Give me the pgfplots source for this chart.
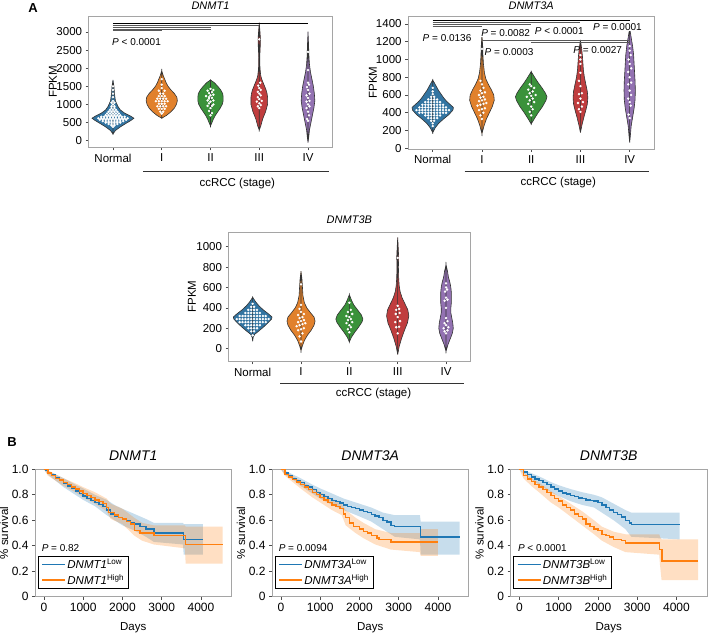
\documentclass[border=0pt]{standalone}
\usepackage{fontspec}
\setmainfont{Liberation Sans}
\usepackage{pgfplots}
\pgfplotsset{compat=1.18}
\usepackage{pgfplotstable}
\usepgfplotslibrary{fillbetween}

\definecolor{vblue}{RGB}{50,116,161}
\definecolor{vorange}{RGB}{225,129,44}
\definecolor{vgreen}{RGB}{58,146,58}
\definecolor{vred}{RGB}{192,61,62}
\definecolor{vpurple}{RGB}{147,114,178}
\definecolor{kmblue}{RGB}{31,119,180}
\definecolor{kmorange}{RGB}{255,127,14}
\definecolor{framegray}{RGB}{165,165,165}

% ---------- violin outlines: value v, half width w ----------
\pgfplotstableread{
v w
185 0
280 0.05
380 0.15
480 0.27
560 0.37
620 0.43
680 0.36
760 0.24
850 0.15
950 0.10
1100 0.05
1300 0.03
1500 0.02
1676 0
}\aN
\pgfplotstableread{
v w
620 0
700 0.10
800 0.19
900 0.26
1000 0.30
1100 0.32
1200 0.31
1300 0.26
1400 0.19
1500 0.13
1600 0.09
1700 0.06
1800 0.03
1930 0
}\aI
\pgfplotstableread{
v w
406 0
500 0.03
600 0.06
700 0.10
800 0.15
900 0.20
1000 0.24
1100 0.26
1200 0.26
1300 0.25
1400 0.21
1500 0.15
1600 0.08
1676 0
}\aII
\pgfplotstableread{
v w
295 0
400 0.03
500 0.05
600 0.07
700 0.10
800 0.13
900 0.15
1000 0.17
1100 0.17
1200 0.17
1300 0.16
1400 0.14
1500 0.11
1600 0.08
1700 0.05
1800 0.03
2000 0.015
2300 0.01
2600 0.02
2800 0.025
3000 0.015
3258 0
}\aIII
\pgfplotstableread{
v w
-55 0
100 0.015
300 0.03
500 0.06
700 0.09
900 0.12
1100 0.14
1300 0.13
1500 0.11
1700 0.08
1900 0.05
2100 0.03
2300 0.02
2500 0.015
2700 0.01
3010 0
}\aIV
\pgfplotstableread{
v w
176 0
230 0.05
280 0.12
330 0.22
380 0.33
430 0.41
460 0.42
490 0.36
530 0.28
570 0.22
610 0.17
650 0.12
700 0.07
740 0.03
769 0
}\bN
\pgfplotstableread{
v w
163 0
250 0.04
330 0.09
400 0.15
470 0.21
540 0.25
600 0.24
660 0.19
720 0.13
780 0.08
850 0.05
950 0.03
1050 0.02
1150 0.015
1276 0
}\bI
\pgfplotstableread{
v w
274 0
330 0.06
400 0.14
470 0.23
540 0.30
580 0.32
620 0.29
680 0.22
740 0.14
800 0.07
863 0
}\bII
\pgfplotstableread{
v w
176 0
260 0.03
350 0.07
430 0.11
500 0.14
570 0.15
640 0.14
720 0.11
800 0.08
880 0.06
960 0.05
1040 0.04
1120 0.025
1220 0
}\bIII
\pgfplotstableread{
v w
63 0
150 0.015
250 0.03
350 0.06
450 0.09
550 0.11
650 0.115
750 0.11
850 0.10
950 0.09
1050 0.08
1150 0.06
1250 0.03
1351 0
}\bIV
\pgfplotstableread{
v w
72 0
110 0.01
140 0.04
170 0.12
210 0.22
250 0.31
290 0.39
310 0.40
340 0.33
380 0.22
420 0.13
460 0.06
504 0
}\cN
\pgfplotstableread{
v w
-20 0
30 0.03
80 0.07
130 0.13
180 0.21
230 0.27
270 0.29
310 0.27
350 0.20
400 0.12
450 0.07
520 0.04
600 0.03
680 0.02
759 0
}\cI
\pgfplotstableread{
v w
66 0
110 0.04
160 0.11
210 0.19
260 0.26
290 0.28
330 0.25
380 0.17
430 0.09
480 0.04
530 0
}\cII
\pgfplotstableread{
v w
-59 0
20 0.03
100 0.08
180 0.14
250 0.20
320 0.23
380 0.21
440 0.15
500 0.09
560 0.05
620 0.03
700 0.02
800 0.015
900 0.02
1000 0.01
1092 0
}\cIII
\pgfplotstableread{
v w
-26 0
40 0.04
100 0.09
150 0.13
200 0.15
250 0.14
300 0.12
350 0.10
400 0.10
450 0.11
500 0.11
550 0.11
600 0.10
650 0.08
700 0.05
760 0.03
824 0
}\cIV

\newcommand{\violin}[3]{%
  \addplot[draw=none, forget plot, name path=vr#1] table[x expr={#1+\thisrow{w}}, y=v]{#3};
  \addplot[draw=none, forget plot, name path=vl#1] table[x expr={#1-\thisrow{w}}, y=v]{#3};
  \addplot[fill=#2, draw=black!80, line width=0.6pt, forget plot] fill between[of=vr#1 and vl#1];
}

\tikzset{pnote/.style={anchor=west, font=\fontsize{10}{12}\selectfont, inner sep=0pt}}

\pgfplotsset{
  common/.style={
    scale only axis, anchor=south west, clip=false,
    axis line style={framegray, line width=0.9pt},
    tick style={black!70, line width=0.6pt},
    tick align=outside, major tick length=3pt,
    xtick pos=bottom, ytick pos=left,
    scaled ticks=false,
    /pgf/number format/assume math mode=true,
    /pgf/number format/1000 sep={},
    ticklabel style={font=\fontsize{11.5}{13}\selectfont},
  },
  vio/.style={common,
    xmin=-0.5, xmax=4.5,
    xtick={0,1,2,3,4}, xticklabels={Normal,I,II,III,IV},
    ylabel={FPKM},
    ylabel style={font=\fontsize{11.5}{13}\selectfont, anchor=center},
    title style={font=\itshape\fontsize{11}{13}\selectfont, anchor=center},
  },
  dots/.style={only marks, mark=*, mark size=1pt, color=white, forget plot},
  sig/.style={black!65, line width=0.7pt, forget plot},
  km/.style={common,
    width=196.5pt, height=127.4pt,
    xmin=-227, xmax=4777, ymin=0, ymax=1,
    xtick={0,1000,2000,3000,4000},
    ytick={0,0.2,0.4,0.6,0.8,1}, yticklabels={0,0.2,0.4,0.6,0.8,1.0},
    ticklabel style={font=\fontsize{12}{14}\selectfont},
    xlabel={Days}, ylabel={\% survival},
    xlabel style={font=\fontsize{11.5}{13}\selectfont, at={(0.5,-0.24)}, anchor=center},
    ylabel style={font=\fontsize{11.5}{13}\selectfont, at={(-0.158,0.5)}, anchor=center},
    title style={font=\itshape\fontsize{14}{16}\selectfont, at={(0.5,1.057)}, anchor=center},
    legend cell align=left,
    legend style={at={(0.015,0.06)}, anchor=south west, draw=black, line width=0.9pt,
      font=\fontsize{11.5}{13}\selectfont, inner xsep=3pt, inner ysep=1pt, row sep=1pt,
      nodes={inner sep=1.6pt}},
    legend image code/.code={\draw[##1] (0pt,0pt) -- (23pt,0pt);},
  },
  bandblue/.style={fill=kmblue, fill opacity=0.25, draw=none, forget plot},
  bandorange/.style={fill=kmorange, fill opacity=0.25, draw=none, forget plot},
  lineblue/.style={draw=kmblue, line width=1.4pt, const plot, mark=none},
  lineorange/.style={draw=kmorange, line width=1.4pt, const plot, mark=none},
}

\begin{document}
\begin{tikzpicture}

\node[font=\bfseries\fontsize{13}{15}\selectfont] at (33pt,626pt) {A};
\node[font=\bfseries\fontsize{13}{15}\selectfont] at (12pt,192pt) {B};

% ================= A1: DNMT1 =================
\begin{axis}[vio, at={(88.6pt,486.5pt)}, width=243.8pt, height=131.5pt,
  ymin=-188, ymax=3443, ytick={0,500,1000,1500,2000,2500,3000},
  title={DNMT1}, title style={at={(0.5,1.03)}},
  ylabel style={at={(-0.146,0.5)}}]
\violin{0}{vblue}{\aN}
\violin{1}{vorange}{\aI}
\violin{2}{vgreen}{\aII}
\violin{3}{vred}{\aIII}
\violin{4}{vpurple}{\aIV}
\addplot[dots] coordinates {
(0,380)
(-0.03,420)(0.03,420)
(-0.09,460)(-0.03,460)(0.03,460)(0.09,460)
(-0.15,500)(-0.09,500)(-0.03,500)(0.03,500)(0.09,500)(0.15,500)
(-0.21,540)(-0.15,540)(-0.09,540)(-0.03,540)(0.03,540)(0.09,540)(0.15,540)(0.21,540)
(-0.27,580)(-0.21,580)(-0.15,580)(-0.09,580)(-0.03,580)(0.03,580)(0.09,580)(0.15,580)(0.21,580)(0.27,580)
(-0.30,620)(-0.24,620)(-0.18,620)(-0.12,620)(-0.06,620)(0,620)(0.06,620)(0.12,620)(0.18,620)(0.24,620)(0.30,620)
(-0.24,660)(-0.18,660)(-0.12,660)(-0.06,660)(0,660)(0.06,660)(0.12,660)(0.18,660)(0.24,660)
(-0.15,700)(-0.09,700)(-0.03,700)(0.03,700)(0.09,700)(0.15,700)
(-0.12,750)(-0.06,750)(0,750)(0.06,750)(0.12,750)
(-0.09,800)(-0.03,800)(0.03,800)(0.09,800)
(-0.06,850)(0,850)(0.06,850)
(-0.03,900)(0.03,900)(-0.03,950)(0.03,950)
(0,1000)(-0.03,1050)(0.03,1050)(0,1100)(0,1200)(0,1300)(0,1400)(0,1500)};
\addplot[dots] coordinates {
(1,750)(0.97,800)(1.03,800)(0.94,880)(1.0,880)(1.06,880)
(0.91,950)(0.97,950)(1.03,950)(1.09,950)(0.94,1020)(1.0,1020)(1.06,1020)
(0.88,1090)(0.94,1090)(1.0,1090)(1.06,1090)(1.12,1090)
(0.91,1160)(0.97,1160)(1.03,1160)(1.09,1160)(0.94,1230)(1.0,1230)(1.06,1230)
(0.97,1300)(1.03,1300)(0.94,1380)(1.06,1380)(1.0,1450)(1.0,1550)(1.0,1700)};
\addplot[dots] coordinates {
(2,700)(2.03,760)(1.97,820)(2.0,900)(1.94,960)(2.03,960)(2.06,1000)(1.97,1030)
(2.0,1080)(1.94,1110)(2.06,1110)(1.97,1160)(2.03,1180)(1.97,1200)(1.91,1230)(2.0,1250)
(2.06,1270)(1.97,1310)(2.03,1340)(1.94,1380)(2.06,1400)(2.0,1430)};
\addplot[dots] coordinates {
(3,900)(2.97,950)(3.03,980)(3.0,1030)(2.95,1080)(3.05,1100)(3.0,1150)(2.97,1200)
(3.03,1250)(3.0,1300)(2.97,1350)(3.03,1400)(3.0,1450)(2.98,1520)(3.02,1600)(3.0,2800)};
\addplot[dots] coordinates {
(4,550)(3.98,600)(4.02,700)(4.0,800)(3.97,900)(4.03,950)(4.0,1000)(3.97,1080)
(4.03,1100)(4.0,1180)(3.97,1250)(4.03,1300)(4.0,1400)(3.98,1480)(4.02,1550)(4.0,1600)
(4.0,1950)(4.0,2450)};
\addplot[sig, black] coordinates {(0,3230)(4,3230)};
\addplot[sig] coordinates {(0,3180)(3,3180)};
\addplot[sig] coordinates {(0,3130)(2,3130)};
\addplot[sig] coordinates {(0,3085)(2,3085)};
\addplot[sig] coordinates {(0,3040)(1,3040)};
\node[pnote] at (axis cs:-0.02,2733) {\textit{P} < 0.0001};
\draw[black!80, line width=0.8pt] ([yshift=-24pt]axis cs:0.62,-188) -- ([yshift=-24pt]axis cs:4.42,-188);
\node[font=\fontsize{11.5}{13}\selectfont] at ([yshift=-36pt]axis cs:2.55,-188) {ccRCC (stage)};
\end{axis}

% ================= A2: DNMT3A =================
\begin{axis}[vio, at={(408.1pt,485pt)}, width=246.2pt, height=133pt,
  ymin=-8, ymax=1490, ytick={0,200,400,600,800,1000,1200,1400},
  title={DNMT3A}, title style={at={(0.5,1.03)}},
  ylabel style={at={(-0.143,0.5)}}]
\violin{0}{vblue}{\bN}
\violin{1}{vorange}{\bI}
\violin{2}{vgreen}{\bII}
\violin{3}{vred}{\bIII}
\violin{4}{vpurple}{\bIV}
\addplot[dots] coordinates {
(0,250)(0,280)(-0.03,310)(0.03,310)
(-0.09,340)(-0.03,340)(0.03,340)(0.09,340)
(-0.15,370)(-0.09,370)(-0.03,370)(0.03,370)(0.09,370)(0.15,370)
(-0.27,400)(-0.21,400)(-0.15,400)(-0.09,400)(-0.03,400)(0.03,400)(0.09,400)(0.15,400)(0.21,400)(0.27,400)
(-0.33,430)(-0.27,430)(-0.21,430)(-0.15,430)(-0.09,430)(-0.03,430)(0.03,430)(0.09,430)(0.15,430)(0.21,430)(0.27,430)(0.33,430)
(-0.27,460)(-0.21,460)(-0.15,460)(-0.09,460)(-0.03,460)(0.03,460)(0.09,460)(0.15,460)(0.21,460)(0.27,460)
(-0.21,490)(-0.15,490)(-0.09,490)(-0.03,490)(0.03,490)(0.09,490)(0.15,490)(0.21,490)
(-0.15,520)(-0.09,520)(-0.03,520)(0.03,520)(0.09,520)(0.15,520)
(-0.09,550)(-0.03,550)(0.03,550)(0.09,550)
(-0.03,580)(0.03,580)(0,610)(0,640)(0,680)};
\addplot[dots] coordinates {
(1,330)(0.97,370)(1.03,400)(0.94,430)(1.0,440)(1.06,450)(0.91,480)(0.97,490)
(1.03,500)(1.09,510)(0.94,530)(1.0,540)(1.06,550)(0.97,570)(1.03,580)(0.94,600)
(1.0,620)(1.06,630)(0.97,650)(1.03,680)(1.0,720)(0.97,760)(1.0,1120)};
\addplot[dots] coordinates {
(2,370)(1.97,410)(2.03,440)(2.0,470)(1.94,500)(2.06,520)(1.97,540)(2.03,560)
(1.91,580)(2.0,590)(2.09,600)(1.97,620)(2.03,640)(1.94,660)(2.06,680)(2.0,700)(1.97,720)};
\addplot[dots] coordinates {
(3,410)(2.97,440)(3.03,470)(2.95,510)(3.05,520)(3.0,560)(2.97,610)(3.03,620)
(3.0,700)(2.97,760)(3.0,850)(3.0,950)(3.0,1000)(3.0,1050)};
\addplot[dots] coordinates {
(4,340)(3.98,380)(4.02,480)(4.0,520)(3.97,560)(4.03,600)(4.0,650)(3.97,720)
(4.03,740)(4.0,800)(3.97,860)(4.03,900)(4.0,950)(3.98,1000)(4.02,1050)(4.0,1100)(4.0,1150)};
\addplot[sig, black] coordinates {(0,1445)(4,1445)};
\addplot[sig] coordinates {(0,1422)(3,1422)};
\addplot[sig] coordinates {(0,1400)(2,1400)};
\addplot[sig] coordinates {(0,1377)(1,1377)};
\addplot[sig] coordinates {(1,1212)(4,1212)};
\addplot[sig] coordinates {(2,1190)(4,1190)};
\begin{scope}[every node/.style={anchor=west, font=\fontsize{10}{12}\selectfont, fill=white, inner sep=0.6pt}]
\node at (axis cs:-0.22,1239) {\textit{P} = 0.0136};
\node at (axis cs:0.97,1295) {\textit{P} = 0.0082};
\node at (axis cs:2.06,1325) {\textit{P} < 0.0001};
\node at (axis cs:3.24,1370) {\textit{P} = 0.0001};
\node[fill=none] at (axis cs:1.04,1088) {\textit{P} = 0.0003};
\node[fill=none] at (axis cs:2.84,1107) {\textit{P} = 0.0027};
\end{scope}
\draw[black!80, line width=0.8pt] ([yshift=-22pt]axis cs:0.65,-8) -- ([yshift=-22pt]axis cs:4.4,-8);
\node[font=\fontsize{11.5}{13}\selectfont] at ([yshift=-34pt]axis cs:2.55,-8) {ccRCC (stage)};
\end{axis}

% ================= A3: DNMT3B =================
\begin{axis}[vio, at={(228.5pt,272.7pt)}, width=241.7pt, height=129.3pt,
  ymin=-124, ymax=1144, ytick={0,200,400,600,800,1000},
  title={DNMT3B}, title style={at={(0.5,1.046)}},
  ylabel style={at={(-0.151,0.5)}}]
\violin{0}{vblue}{\cN}
\violin{1}{vorange}{\cI}
\violin{2}{vgreen}{\cII}
\violin{3}{vred}{\cIII}
\violin{4}{vpurple}{\cIV}
\addplot[dots] coordinates {
(0,130)(-0.03,170)(0.03,170)
(-0.09,200)(-0.03,200)(0.03,200)(0.09,200)
(-0.15,230)(-0.09,230)(-0.03,230)(0.03,230)(0.09,230)(0.15,230)
(-0.27,260)(-0.21,260)(-0.15,260)(-0.09,260)(-0.03,260)(0.03,260)(0.09,260)(0.15,260)(0.21,260)(0.27,260)
(-0.33,290)(-0.27,290)(-0.21,290)(-0.15,290)(-0.09,290)(-0.03,290)(0.03,290)(0.09,290)(0.15,290)(0.21,290)(0.27,290)(0.33,290)
(-0.27,320)(-0.21,320)(-0.15,320)(-0.09,320)(-0.03,320)(0.03,320)(0.09,320)(0.15,320)(0.21,320)(0.27,320)
(-0.15,350)(-0.09,350)(-0.03,350)(0.03,350)(0.09,350)(0.15,350)
(-0.09,380)(-0.03,380)(0.03,380)(0.09,380)
(-0.03,410)(0.03,410)(0,440)};
\addplot[dots] coordinates {
(1,70)(0.97,120)(1.03,150)(0.94,180)(1.0,190)(1.06,200)(0.91,220)(0.97,230)
(1.03,240)(1.09,250)(0.94,260)(1.0,270)(1.06,280)(0.97,300)(1.03,310)(0.94,330)
(1.06,340)(1.0,360)(0.97,390)(1.0,430)(1.0,630)};
\addplot[dots] coordinates {
(2,160)(1.97,190)(2.03,210)(2.0,230)(1.94,250)(2.06,260)(1.97,280)(2.03,290)
(2.0,310)(1.94,320)(2.06,340)(1.97,360)(2.03,380)(2.0,450)};
\addplot[dots] coordinates {
(3,150)(2.97,210)(3.03,215)(2.95,260)(3.05,270)(3.0,310)(2.96,340)(3.04,350)
(2.97,380)(3.03,390)(3.0,420)(3.0,890)};
\addplot[dots] coordinates {
(4,150)(3.97,170)(4.03,180)(3.95,200)(4.05,210)(4.0,230)(3.97,250)(4.03,270)
(4.0,300)(4.0,400)(3.97,470)(4.03,480)(4.0,500)(3.98,560)(4.02,580)(4.0,600)(4.0,640)};
\draw[black!80, line width=0.8pt] ([yshift=-21.7pt]axis cs:0.57,-124) -- ([yshift=-21.7pt]axis cs:4.38,-124);
\node[font=\fontsize{11.5}{13}\selectfont] at ([yshift=-32pt]axis cs:2.5,-124) {ccRCC (stage)};
\end{axis}

% ================= B1: DNMT1 survival =================
\begin{axis}[km, at={(35pt,37.3pt)}, title={DNMT1}]
\addplot[bandblue] coordinates {(0,1)(100,0.99)(300,0.96)(500,0.93)(800,0.88)(1000,0.85)(1300,0.80)(1600,0.76)(1800,0.72)(2000,0.69)(2300,0.65)(2600,0.61)(2800,0.58)(3540,0.58)(3560,0.57)(4050,0.57)
(4050,0.33)(3560,0.33)(3540,0.41)(2800,0.43)(2600,0.47)(2300,0.52)(2000,0.56)(1800,0.60)(1600,0.64)(1300,0.71)(1000,0.76)(800,0.80)(500,0.86)(300,0.91)(100,0.96)(0,1)} -- cycle;
\addplot[bandorange] coordinates {(0,1)(100,0.99)(300,0.96)(500,0.93)(800,0.89)(1000,0.86)(1300,0.82)(1600,0.77)(1700,0.73)(2000,0.69)(2300,0.62)(2500,0.58)(2800,0.56)(3590,0.56)(3610,0.55)(4550,0.55)
(4550,0.26)(3610,0.26)(3590,0.38)(2800,0.41)(2500,0.44)(2300,0.48)(2000,0.57)(1700,0.61)(1600,0.67)(1300,0.73)(1000,0.78)(800,0.82)(500,0.87)(300,0.91)(100,0.95)(0,1)} -- cycle;
\addplot[lineblue] coordinates {(0,1.0)(50,0.99)(100,0.975)(200,0.955)(300,0.935)(400,0.91)(500,0.89)(600,0.87)(700,0.85)(800,0.83)(900,0.81)(1000,0.79)(1100,0.77)(1200,0.755)(1300,0.74)(1400,0.725)(1500,0.71)(1600,0.68)(1700,0.65)(1800,0.63)(1900,0.62)(2000,0.61)(2100,0.60)(2200,0.58)(2300,0.57)(2450,0.55)(2600,0.53)(2800,0.50)(3550,0.45)(4050,0.45)};
\addlegendentry{\textit{DNMT1}\textsuperscript{Low}}
\addplot[lineorange] coordinates {(0,1.0)(100,0.97)(200,0.95)(300,0.93)(400,0.915)(500,0.895)(600,0.88)(700,0.86)(800,0.845)(900,0.83)(1000,0.81)(1100,0.795)(1200,0.78)(1300,0.76)(1400,0.745)(1500,0.73)(1600,0.70)(1650,0.66)(1800,0.64)(1900,0.62)(2000,0.61)(2100,0.59)(2200,0.57)(2300,0.52)(2450,0.50)(2800,0.48)(3600,0.41)(4550,0.41)};
\addlegendentry{\textit{DNMT1}\textsuperscript{High}}
\node[pnote] at (axis cs:-60,0.38) {\textit{P} = 0.82};
\end{axis}

% ================= B2: DNMT3A survival =================
\begin{axis}[km, at={(272pt,37.3pt)}, title={DNMT3A}]
\addplot[bandblue] coordinates {(0,1)(100,0.99)(300,0.96)(500,0.93)(800,0.88)(1000,0.85)(1300,0.81)(1600,0.77)(2000,0.73)(2300,0.70)(2600,0.66)(2900,0.64)(3540,0.64)(3560,0.59)(4550,0.59)
(4550,0.33)(3560,0.33)(3540,0.45)(2900,0.47)(2600,0.53)(2300,0.59)(2000,0.63)(1600,0.68)(1300,0.72)(1000,0.77)(800,0.81)(500,0.87)(300,0.92)(100,0.96)(0,1)} -- cycle;
\addplot[bandorange] coordinates {(0,1)(100,0.985)(300,0.95)(500,0.91)(800,0.86)(1000,0.82)(1300,0.77)(1550,0.73)(1650,0.68)(1900,0.62)(2100,0.58)(2400,0.53)(2800,0.50)(3540,0.50)(3560,0.53)(4000,0.53)
(4000,0.32)(3560,0.32)(3540,0.35)(2800,0.37)(2400,0.41)(2100,0.46)(1900,0.50)(1650,0.56)(1550,0.64)(1300,0.68)(1000,0.74)(800,0.78)(500,0.85)(300,0.90)(100,0.95)(0,1)} -- cycle;
\addplot[lineblue] coordinates {(0,1)(100,0.97)(200,0.95)(300,0.93)(400,0.91)(500,0.895)(600,0.875)(700,0.86)(800,0.84)(900,0.82)(1000,0.80)(1100,0.785)(1200,0.77)(1300,0.755)(1400,0.745)(1500,0.735)(1600,0.72)(1700,0.71)(1800,0.70)(1900,0.69)(2000,0.68)(2100,0.67)(2200,0.66)(2300,0.645)(2400,0.635)(2500,0.62)(2600,0.60)(2700,0.585)(2800,0.56)(2900,0.55)(3550,0.47)(4550,0.47)};
\addlegendentry{\textit{DNMT3A}\textsuperscript{Low}}
\addplot[lineorange] coordinates {(0,1)(100,0.96)(200,0.94)(300,0.92)(400,0.90)(500,0.88)(600,0.86)(700,0.84)(800,0.82)(900,0.80)(1000,0.78)(1100,0.76)(1200,0.74)(1300,0.72)(1400,0.71)(1500,0.69)(1600,0.65)(1650,0.62)(1750,0.58)(1850,0.55)(2000,0.53)(2100,0.51)(2200,0.50)(2300,0.48)(2450,0.46)(2500,0.45)(2800,0.43)(4000,0.43)};
\addlegendentry{\textit{DNMT3A}\textsuperscript{High}}
\node[pnote] at (axis cs:-60,0.38) {\textit{P} = 0.0094};
\end{axis}

% ================= B3: DNMT3B survival =================
\begin{axis}[km, at={(510.5pt,37.3pt)}, title={DNMT3B}]
\addplot[bandblue] coordinates {(0,1)(100,0.995)(300,0.97)(500,0.945)(800,0.90)(1000,0.875)(1300,0.845)(1600,0.82)(1900,0.80)(2100,0.78)(2400,0.73)(2700,0.68)(2850,0.66)(4080,0.66)
(4080,0.45)(2850,0.47)(2700,0.53)(2400,0.60)(2100,0.66)(1900,0.70)(1600,0.72)(1300,0.75)(1000,0.79)(800,0.82)(500,0.88)(300,0.92)(100,0.97)(0,1)} -- cycle;
\addplot[bandorange] coordinates {(0,1)(100,0.975)(300,0.93)(500,0.895)(800,0.83)(1000,0.79)(1300,0.73)(1600,0.67)(1900,0.60)(2100,0.55)(2400,0.51)(2700,0.49)(3560,0.49)(3580,0.47)(3620,0.45)(4550,0.45)
(4550,0.13)(3620,0.13)(3580,0.25)(3560,0.33)(2700,0.35)(2400,0.39)(2100,0.44)(1900,0.49)(1600,0.56)(1300,0.63)(1000,0.70)(800,0.74)(500,0.82)(300,0.87)(100,0.93)(0,1)} -- cycle;
\addplot[lineblue] coordinates {(0,1)(100,0.98)(200,0.96)(300,0.94)(400,0.925)(500,0.91)(600,0.895)(700,0.88)(800,0.86)(900,0.845)(1000,0.83)(1100,0.815)(1200,0.805)(1300,0.795)(1400,0.785)(1500,0.775)(1600,0.77)(1700,0.76)(1800,0.755)(1900,0.75)(2000,0.74)(2100,0.72)(2200,0.70)(2300,0.68)(2400,0.66)(2500,0.645)(2600,0.625)(2700,0.60)(2800,0.58)(2850,0.565)(4080,0.565)};
\addlegendentry{\textit{DNMT3B}\textsuperscript{Low}}
\addplot[lineorange] coordinates {(0,1)(100,0.95)(200,0.925)(300,0.905)(400,0.88)(500,0.86)(600,0.84)(700,0.82)(800,0.795)(900,0.77)(1000,0.75)(1100,0.72)(1200,0.70)(1300,0.68)(1400,0.65)(1500,0.63)(1600,0.61)(1700,0.57)(1800,0.55)(1900,0.53)(2000,0.52)(2100,0.49)(2200,0.48)(2300,0.47)(2400,0.45)(2600,0.44)(2700,0.42)(3570,0.37)(3630,0.28)(4550,0.28)};
\addlegendentry{\textit{DNMT3B}\textsuperscript{High}}
\node[pnote] at (axis cs:-40,0.38) {\textit{P} < 0.0001};
\end{axis}

\pgfresetboundingbox
\useasboundingbox (0,0) rectangle (709pt,634pt);
\end{tikzpicture}
\end{document}
